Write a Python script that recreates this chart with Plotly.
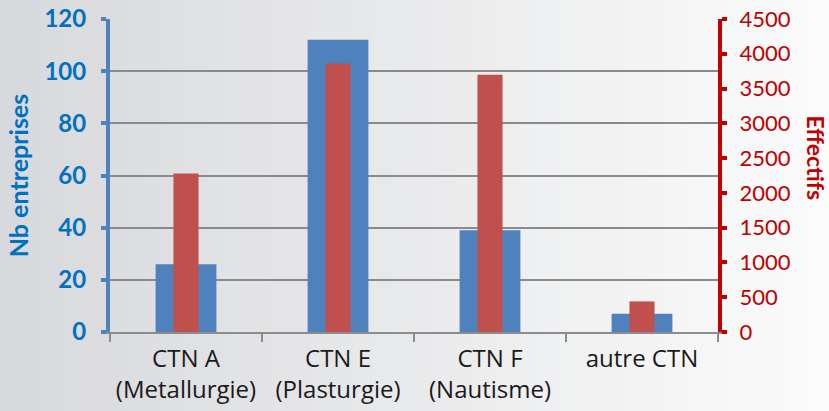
import plotly.graph_objects as go

categories = ["CTN A<br>(Metallurgie)", "CTN E<br>(Plasturgie)", "CTN F<br>(Nautisme)", "autre CTN"]
nb_entreprises = [26, 112, 39, 7]
effectifs = [2280, 3860, 3700, 440]

BLUE = "#4f81bd"
RED = "#c0504d"
BLUE_TXT = "#0070c0"
RED_TXT = "#c00000"
FONT = "Lato"

fig = go.Figure()
fig.add_trace(go.Bar(x=categories, y=nb_entreprises, name="Nb entreprises",
                     marker=dict(color=BLUE, line=dict(width=0)), width=0.4,
                     offsetgroup="a", yaxis="y"))
fig.add_trace(go.Bar(x=categories, y=effectifs, name="Effectifs",
                     marker=dict(color=RED, line=dict(width=0)), width=0.165,
                     offsetgroup="a", yaxis="y2"))

# background gradient strips (left grey -> right near white)
shapes = []
N = 40
W, H = 829, 411
L, R, T, B = 110, 111, 19, 79
pw = W - L - R
ph = H - T - B
x_lo = -L / pw
x_hi = 1 + R / pw
y_lo = -B / ph
y_hi = 1 + T / ph
c0 = (0xd8, 0xd9, 0xdc)
c1 = (0xfb, 0xfb, 0xfb)
for i in range(N):
    t = i / (N - 1)
    c = tuple(int(round(c0[k] + (c1[k] - c0[k]) * t)) for k in range(3))
    xa = x_lo + (x_hi - x_lo) * i / N
    xb = x_lo + (x_hi - x_lo) * (i + 1) / N + 0.002
    shapes.append(dict(type="rect", xref="paper", yref="paper", x0=xa, x1=xb,
                       y0=y_lo, y1=y_hi, fillcolor="rgb(%d,%d,%d)" % c,
                       line=dict(width=0), layer="below"))

fig.update_layout(
    width=W, height=H,
    margin=dict(l=L, r=R, t=T, b=B, autoexpand=False),
    paper_bgcolor="rgba(0,0,0,0)",
    plot_bgcolor="rgba(0,0,0,0)",
    showlegend=False,
    barmode="overlay",
    shapes=shapes,
    font=dict(family=FONT, size=22),
    xaxis=dict(
        automargin=False,
        showline=True, linecolor="#8c8c8c", linewidth=2,
        ticks="outside", tickson="boundaries", ticklen=8, tickwidth=2, tickcolor="#8c8c8c",
        ticklabelstandoff=4,
        tickfont=dict(family="Open Sans", size=24, color="#1a1a1a"),
        showgrid=False,
    ),
    yaxis=dict(
        automargin=False,
        range=[0, 120], dtick=20,
        showline=True, linecolor=BLUE, linewidth=4,
        ticks="outside", ticklen=5, tickwidth=4, tickcolor=BLUE,
        ticklabelstandoff=10,
        tickfont=dict(family=FONT, size=24, color=BLUE_TXT, weight="bold"),
        showgrid=True, gridcolor="#8a8a8a", gridwidth=2,
        zeroline=False,
        title=dict(text="Nb entreprises", font=dict(family=FONT, size=25, color=BLUE_TXT, weight="bold"),
                   standoff=10),
    ),
    yaxis2=dict(
        automargin=False,
        range=[0, 4500], dtick=500, overlaying="y", side="right",
        showline=True, linecolor=RED_TXT, linewidth=4,
        ticks="outside", ticklen=5, tickwidth=4, tickcolor=RED_TXT,
        ticklabelstandoff=8,
        tickfont=dict(family=FONT, size=22, color=RED_TXT),
        showgrid=False, zeroline=False,
    ),
    annotations=[dict(text="Effectifs", xref="paper", yref="paper",
                      x=1 + 98 / pw, y=0.5 + 18 / ph, textangle=90,
                      showarrow=False, xanchor="center", yanchor="middle",
                      font=dict(family=FONT, size=23, color=RED_TXT, weight="bold"))],
)

fig.write_html("out.html", config={"displayModeBar": False},
               post_script="document.body.style.margin='0';document.body.style.padding='0';")
